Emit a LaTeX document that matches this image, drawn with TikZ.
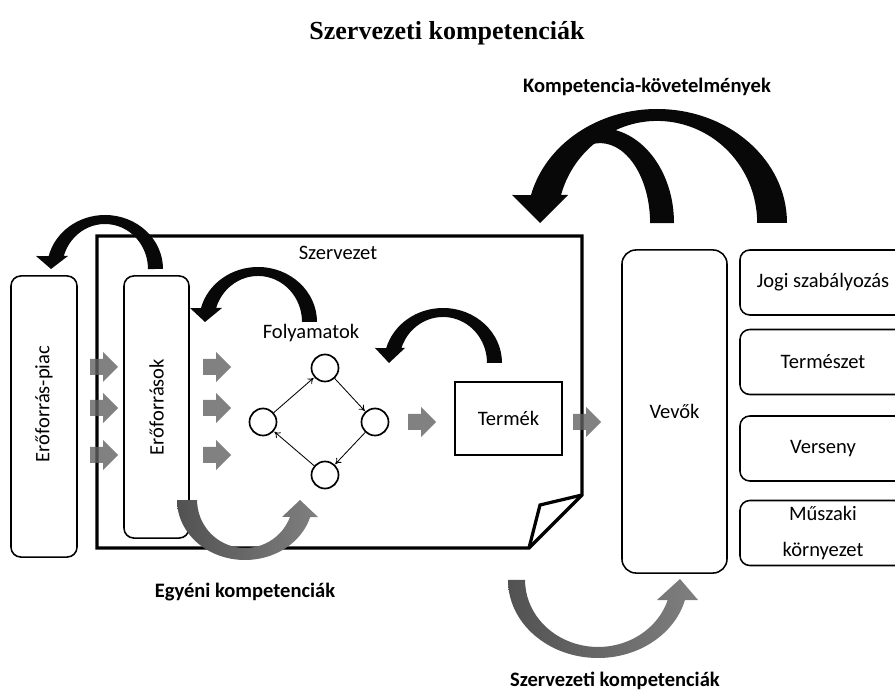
\documentclass[tikz,border=0pt]{standalone}
\usepackage{fontspec}
\setmainfont{Carlito}
\newfontfamily\titlefont{Liberation Serif}
\usetikzlibrary{arrows.meta}
\newcommand{\blockarrow}[1]{\fill[blockarr] #1 ++(0,-8) -- ++(13,0) -- ++(0,-7) -- ++(15,15) -- ++(-15,15) -- ++(0,-7) -- ++(-13,0) -- cycle;}
\tikzset{
  lbl/.style={font=\fontsize{14.6}{25}\selectfont, align=center},
  boldlbl/.style={font=\fontsize{14.6}{18}\selectfont\bfseries},
  box/.style={draw, line width=1.1pt, rounded corners=7pt, inner sep=0pt, lbl},
  bigbox/.style={box, rounded corners=10pt},
  frame/.style={line width=2.3pt, line join=miter},
  proc/.style={draw, circle, line width=1.2pt, minimum size=0.675cm, inner sep=0pt},
  flow/.style={-{To[length=4pt,width=5pt]}, line width=0.6pt, shorten >=0.5pt},
  bendband/.style={fill=black!97},
  grayband/.style={left color=black!68, right color=black!50},
  blockarr/.style={fill=black!62, fill opacity=.8}
}
\begin{document}
\begin{tikzpicture}[x=0.025cm, y=-0.025cm]
\useasboundingbox (0,0) rectangle (895,694);
\clip (0,0) rectangle (895,694);
\node[font=\titlefont\bfseries\fontsize{18.5}{22}\selectfont] (title) at (447,33) {Szervezeti kompetenciák};

% szervezet
\draw[frame] (97,236) -- (582,236) -- (582,495) -- (529,548) -- (97,548) -- cycle;
\draw[frame] (582,495) -- (540,505) -- (529,548);
\node[lbl] (szerv) at (338,253) {Szervezet};

\node[box, rotate=90, minimum width=7.025cm, minimum height=1.65cm] (piac) at (44,416.5) {};
\node[lbl, rotate=90] (piaclbl) at (44,404) {Erőforrás-piac};
\node[box, rotate=90, minimum width=6.55cm, minimum height=1.625cm] (forras) at (156.5,407) {Erőforrások};

% folyamatok
\node[lbl] (foly) at (311,333) {Folyamatok};
\node[proc] (cT) at (325,368) {};
\node[proc] (cL) at (263,422) {};
\node[proc] (cR) at (375,422) {};
\node[proc] (cB) at (325,475) {};
\draw[flow] (cL) -- (cT);
\draw[flow] (cT) -- (cR);
\draw[flow] (cR) -- (cB);
\draw[flow] (cB) -- (cL);

\node[draw, line width=1.3pt, lbl, minimum width=2.675cm, minimum height=1.825cm] (termek) at (508.5,418.5) {Termék};

% kornyezet
\node[bigbox, minimum width=2.625cm, minimum height=8.075cm] (vevok) at (674.5,411.5) {Vevők};
\node[box, minimum width=4.15cm, minimum height=1.625cm] (jogi) at (823,282.5) {Jogi szabályozás};
\node[box, minimum width=4.15cm, minimum height=1.625cm] (term) at (823,362) {Természet};
\node[box, minimum width=4.15cm, minimum height=1.625cm] (verseny) at (823,448.5) {Verseny};
\node[box, minimum width=4.15cm, minimum height=1.625cm] (muszaki) at (823,533) {Műszaki\\környezet};

% fekete visszacsatolasok
\fill[bendband] (163,269) arc[start angle=0, end angle=-166.1, x radius=58, y radius=54] -- (36,256) -- (51,269) -- (68,256) -- (63.8,256) arc[start angle=-163.2, end angle=0, x radius=43, y radius=45] -- cycle;
\fill[bendband] (317,322) arc[start angle=0, end angle=-165.3, x radius=59, y radius=55] -- (190,308) -- (205,322) -- (222,308) -- (216.1,308) arc[start angle=-162.3, end angle=0, x radius=44, y radius=46] -- cycle;
\fill[bendband] (502,363) arc[start angle=0, end angle=-164.2, x radius=59, y radius=55] -- (375,348) -- (389,363) -- (405,348) -- (401.4,348) arc[start angle=-161, end angle=0, x radius=44, y radius=46] -- cycle;
\fill[bendband] (674,223) arc[start angle=0, end angle=-90, x radius=74, y radius=95] -- (583,148) arc[start angle=-110, end angle=0, x radius=50, y radius=80] -- cycle;
\fill[bendband] (787,223) arc[start angle=0, end angle=-165.8, x radius=130, y radius=114] -- (512,195) -- (540,223) -- (568,195) -- (561,195) arc[start angle=-164.1, end angle=0, x radius=100, y radius=102] -- cycle;
\node[boldlbl] (kovet) at (647,87) {Kompetencia-követelmények};

% kompetenciak
\shade[grayband] (177,500) arc[start angle=180, end angle=16.5, x radius=68, y radius=60] -- (318,517) -- (300,500) -- (282,517) -- (290,517) arc[start angle=20.7, end angle=180, x radius=48, y radius=48] -- cycle;
\shade[grayband] (508,580) arc[start angle=180, end angle=14.9, x radius=90, y radius=78] -- (698,600) -- (680,579) -- (657,600) -- (667.7,600) arc[start angle=17.4, end angle=180, x radius=73, y radius=67] -- cycle;
\node[boldlbl] (egyeni) at (245,592) {Egyéni kompetenciák};
\node[boldlbl] (szkomp) at (615,681) {Szervezeti kompetenciák};

% atmenetek
\foreach \y in {367,408,455}{
  \blockarrow{(90,\y)}
  \blockarrow{(203,\y)}
}
\blockarrow{(408,422)}
\blockarrow{(573,422)}
\end{tikzpicture}
\end{document}
